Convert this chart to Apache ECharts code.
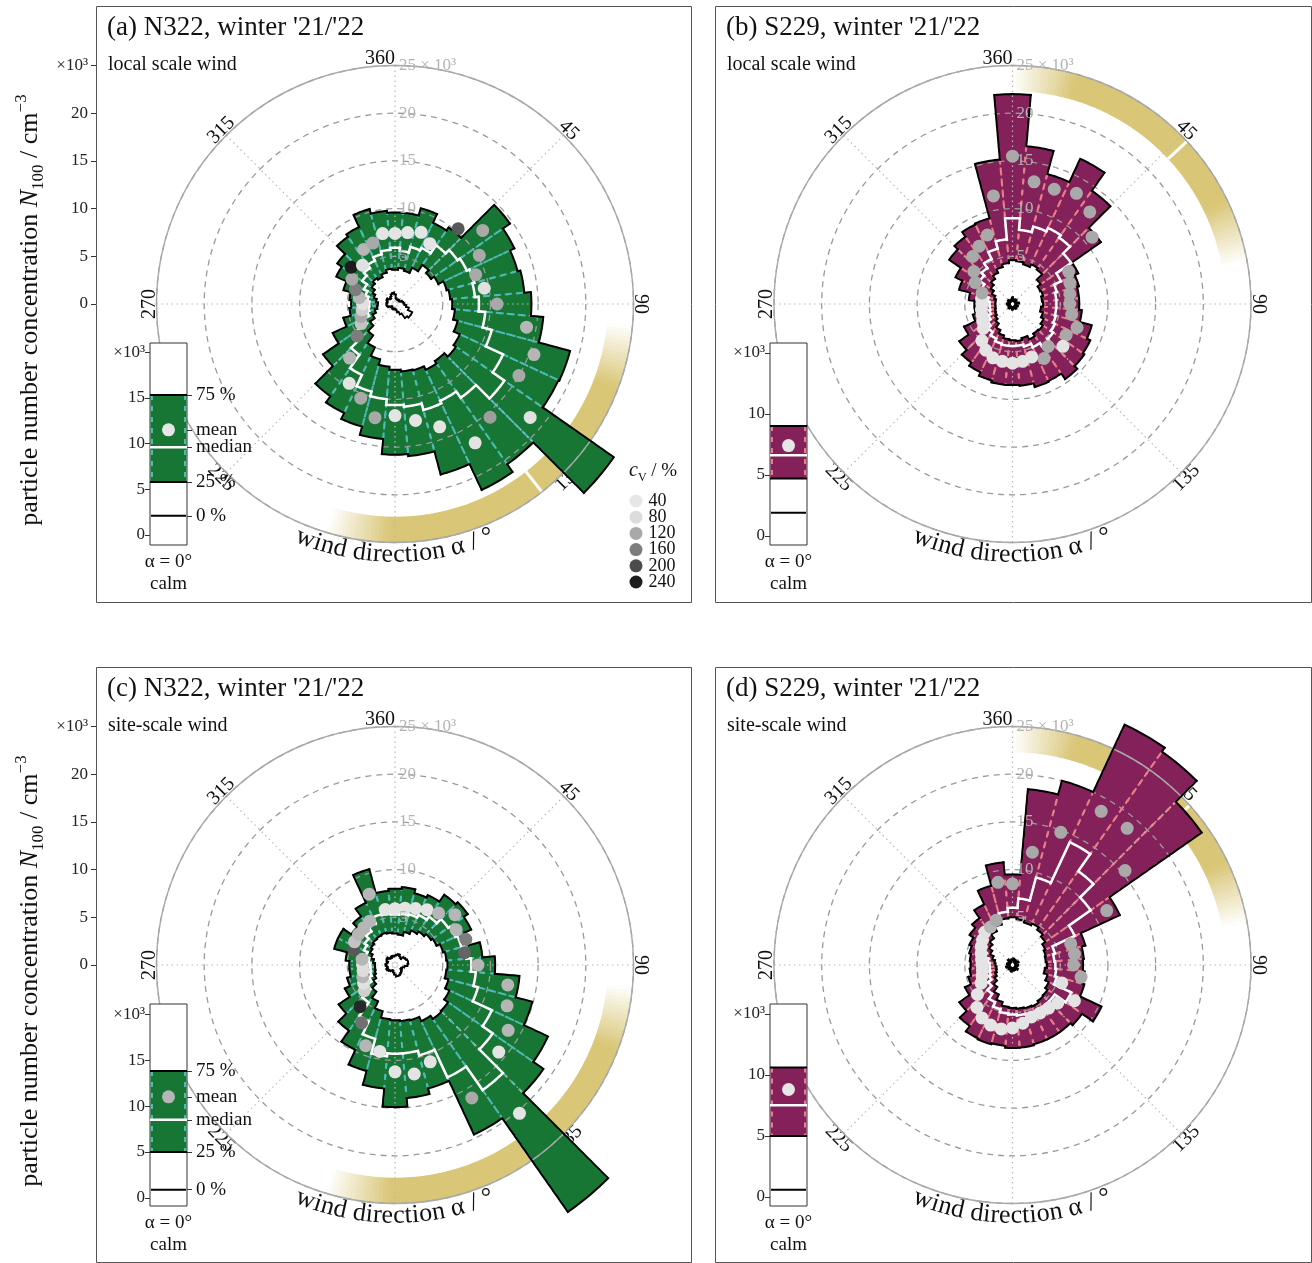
<!DOCTYPE html>
<html>
<head>
<meta charset="utf-8">
<script src="https://cdn.jsdelivr.net/npm/echarts@6.0.0/dist/echarts.min.js"></script>
<style>
html,body{margin:0;padding:0;background:#fff;}
#chart{width:1312px;height:1263px;}
</style>
</head>
<body>
<div id="chart"></div>
<script>
// ---------------- data ----------------
const BINS = [0,10,20,30,40,50,60,70,80,90,100,110,120,130,140,150,160,170,180,190,200,210,220,230,240,250,260,270,280,290,300,310,320,330,340,350];

// (a) N322, local scale wind  (x10^3 cm^-3)
const A_Q75  = [9.6,9.6,10.4,9.4,9.8,14.7,13.8,13.3,13.6,14.3,15.6,19.0,18.9,28.0,20.5,21.5,18.5,16.0,15.8,14.2,13.3,12.6,11.8,9.2,7.2,5.6,4.8,4.6,4.8,5.6,6.8,7.4,8.6,8.9,10.3,9.8];
const A_MED  = [5.9,5.6,6.2,6.5,7.5,8.0,8.3,8.6,8.4,8.8,9.5,10.5,12.5,14.0,12.0,11.2,11.5,10.8,10.6,10.0,9.5,8.2,6.5,5.0,3.6,3.0,2.8,2.7,2.9,3.2,3.6,4.2,4.6,5.0,5.4,5.7];
const A_Q25  = [3.6,3.8,3.6,4.2,5.0,4.6,5.0,5.6,5.8,6.0,6.3,6.8,7.5,7.8,7.3,7.6,7.2,7.1,6.9,6.6,6.0,5.0,4.0,3.2,2.6,2.2,1.9,1.8,2.0,2.3,2.6,3.0,3.3,3.1,3.4,3.7];
const A_MEAN = [7.4,7.6,8.0,7.3,10.3,12.0,10.2,9.0,9.5,10.7,14.0,15.5,15.0,18.5,15.5,16.8,13.7,12.4,11.7,12.1,10.5,9.6,7.4,5.2,4.1,3.8,3.5,3.4,3.8,4.4,5.2,6.0,5.3,6.6,6.8,7.5];
const A_CV   = [50,45,45,50,190,120,120,120,60,120,110,110,120,60,130,50,50,50,50,120,120,55,110,160,100,120,90,60,110,160,120,240,60,110,120,50];
const A_MIN  = [1.0,0.6,0.5,0.5,0.6,0.5,0.6,0.8,0.9,1.0,1.2,1.5,2.0,2.0,1.8,1.2,0.9,0.6,0.5,0.5,0.6,0.5,0.5,0.4,0.6,0.8,0.9,0.9,0.8,0.9,1.0,0.8,0.7,0.9,1.1,1.2];

// (b) S229, local scale wind
const B_Q75  = [22.0,16.6,14.1,16.8,14.5,11.3,7.6,7.2,7.0,7.0,7.3,8.6,9.0,9.2,9.6,8.9,9.0,8.6,8.5,8.5,8.3,7.9,7.5,6.8,5.6,4.3,4.0,4.0,4.6,5.8,6.6,8.1,8.6,9.2,9.3,15.2];
const B_MED  = [9.0,7.8,8.4,8.8,8.5,7.5,5.6,4.8,4.6,4.6,4.6,4.7,4.9,5.2,5.4,5.0,4.6,4.4,4.4,4.4,4.3,4.0,3.6,3.2,2.8,2.5,2.4,2.4,2.6,3.0,3.6,4.2,4.6,5.2,6.0,6.8];
const B_Q25  = [4.6,4.5,4.3,4.6,4.4,3.6,3.2,3.3,3.1,3.2,3.0,3.3,3.6,3.9,3.8,4.1,3.7,3.9,3.8,3.7,3.4,3.0,2.5,2.2,2.0,1.9,1.8,1.8,1.8,2.0,2.4,2.8,3.2,3.6,4.0,4.3];
const B_MEAN = [15.5,13.0,12.8,13.4,12.6,10.9,6.8,6.4,6.1,6.0,6.3,7.2,6.5,6.9,5.8,6.6,5.9,6.1,6.2,6.1,6.0,5.6,5.0,4.0,3.6,3.4,3.3,3.2,3.3,3.4,4.5,5.3,6.5,7.0,7.7,11.5];
const B_CV   = [120,120,120,120,120,120,120,120,120,120,120,120,120,50,120,120,50,50,50,50,50,50,50,50,50,50,50,50,50,120,120,120,120,120,120,120];
const B_MIN  = [0.7,0.3,0.5,0.4,0.6,0.3,0.4,0.5,0.7,0.3,0.4,0.6,0.5,0.3,0.6,0.4,0.5,0.3,0.6,0.4,0.3,0.5,0.6,0.3,0.4,0.5,0.3,0.6,0.4,0.3,0.5,0.6,0.3,0.4,0.5,0.3];

// (c) N322, site-scale wind
const C_Q75  = [8.0,8.2,7.8,8.1,9.0,9.3,8.8,8.0,9.2,10.5,13.1,14.9,17.7,19.0,31.6,19.6,13.4,14.0,14.9,13.0,11.5,9.8,8.4,7.2,5.8,5.2,4.8,4.8,5.2,6.6,6.6,5.6,6.2,7.2,10.4,7.8];
const C_MED  = [5.3,5.4,5.5,5.8,6.2,6.8,7.0,7.2,7.5,8.0,8.5,9.0,11.2,12.5,16.0,13.0,9.8,9.3,9.3,9.6,8.0,6.5,4.8,3.6,3.0,2.7,2.6,2.6,2.8,3.2,3.6,3.9,4.3,4.8,5.5,5.4];
const C_Q25  = [3.3,3.2,3.6,4.0,4.3,4.6,4.8,5.2,5.4,5.5,5.4,5.8,6.3,6.8,6.9,6.5,6.0,5.9,5.8,5.7,5.0,4.2,3.4,2.8,2.4,2.2,2.1,2.1,2.3,2.6,2.9,3.1,3.3,3.4,3.5,3.4];
const C_MEAN = [5.9,6.05,6.3,6.7,7.1,8.2,7.4,7.9,7.4,8.7,12.0,12.5,13.7,14.2,20.3,16.1,10.8,11.6,11.2,9.2,9.0,7.0,5.7,4.2,3.8,3.6,3.4,3.4,3.5,4.6,4.9,5.0,5.1,5.3,7.9,5.9];
const C_CV   = [50,50,50,50,110,110,110,160,180,110,110,110,110,50,50,120,50,50,50,50,110,170,230,90,60,110,80,70,110,190,100,110,110,110,110,50];
const C_MIN  = [1.0,1.1,1.2,1.0,0.9,1.2,1.3,1.4,1.4,1.3,1.0,0.8,0.7,0.9,1.0,1.1,1.2,1.2,1.0,0.8,0.6,0.7,0.8,0.9,1.0,0.8,0.9,1.0,0.9,0.8,1.0,1.1,0.9,0.8,1.0,0.9];

// (d) S229, site-scale wind
const D_Q75  = [9.5,18.5,20.0,27.8,27.3,24.2,12.4,7.9,7.5,7.4,7.6,7.8,10.3,8.9,8.6,8.6,8.6,8.7,8.7,8.5,8.6,8.5,7.8,6.8,5.5,4.8,4.5,4.4,4.5,4.7,5.0,5.5,6.0,7.0,8.6,10.8];
const D_MED  = [6.0,7.0,9.5,14.2,12.0,10.0,7.2,4.6,4.4,4.5,4.6,4.8,6.8,5.4,5.4,5.5,5.4,5.3,5.2,5.1,4.8,4.3,3.7,3.1,2.7,2.5,2.4,2.4,2.6,3.0,3.4,3.8,4.2,4.6,5.2,5.6];
const D_Q25  = [5.0,4.8,4.6,4.8,4.5,4.2,3.8,3.6,3.5,3.6,3.4,3.8,4.2,4.5,4.6,4.8,4.7,4.6,4.5,4.4,4.0,3.4,2.8,2.3,2.0,1.8,1.7,1.8,1.9,2.2,2.6,3.0,3.4,3.9,4.4,4.9];
const D_MEAN = [8.5,12.0,14.8,18.6,18.7,15.4,11.4,6.5,6.6,6.4,7.3,5.5,7.5,6.2,5.9,5.8,5.8,6.2,6.6,6.8,6.7,6.4,5.8,4.8,3.8,3.4,3.2,3.2,3.3,3.5,3.8,4.1,4.5,4.6,5.0,8.8];
const D_CV   = [120,120,120,120,120,120,120,120,120,120,120,60,50,50,50,50,50,50,50,50,50,50,50,50,50,50,50,50,50,50,50,50,60,110,120,120];
const D_MIN  = [0.5,0.7,0.4,0.6,0.3,0.5,0.7,0.4,0.3,0.6,0.5,0.3,0.4,0.7,0.5,0.3,0.6,0.4,0.5,0.7,0.3,0.4,0.6,0.5,0.3,0.7,0.4,0.5,0.6,0.3,0.5,0.4,0.7,0.3,0.5,0.6];

// calm (alpha = 0): [0 %, 25 %, median, 75 %, mean, cv]
const CALM_A = [2.1, 5.8, 9.6, 15.3, 11.5, 40];
const CALM_B = [1.9, 4.7, 6.6, 9.0, 7.4, 40];
const CALM_C = [0.9, 5.0, 8.5, 13.8, 11.0, 110];
const CALM_D = [0.6, 5.0, 7.5, 10.6, 8.8, 40];

// highlighted direction sector: [start deg, end deg, marker deg]
const BAND_A = [95, 197, 142];
const BAND_B = [0, 80, 47];
const BAND_C = [95, 197, 142];
const BAND_D = [0, 80, 48];

const TITLES = ["(a) N322, winter '21/'22", "(b) S229, winter '21/'22", "(c) N322, winter '21/'22", "(d) S229, winter '21/'22"];
const SUBTITLES = ["local scale wind", "local scale wind", "site-scale wind", "site-scale wind"];
const ANGLE_TICKS = [0, 45, 90, 135, 225, 270, 315];
const ANGLE_TICK_LABELS = ["360", "45", "90", "135", "225", "270", "315"];
const RADIUS_TICKS = [5, 10, 15, 20, 25];
const RADIUS_TICK_LABELS = ["5", "10", "15", "20", "25 × 10³"];
const CV_LEGEND = [40, 80, 120, 160, 200, 240];
const CALM_LABELS = ["0 %", "25 %", "median", "75 %", "mean"];
const AXIS_TITLE_ANGLE = "wind direction α / °";

// ---------------- styling / layout ----------------
const FONT = '"Liberation Serif","Times New Roman",serif';
const GOLD = [217, 198, 119];
const HALF = 5;
const BAND_R = [22.3, 25];
const ANGLE_LABEL_R = 25.75;
const TITLE_R = 26.3;
const RMAX = 25;
const RPX = 238.5;

const PANELS = [
  {q75:A_Q75, med:A_MED, q25:A_Q25, mean:A_MEAN, cv:A_CV, min:A_MIN, calm:CALM_A, band:BAND_A,
   fill:'#177634', edge:'#4fb9b6', frame:[96,6,595,596], cx:395, cy:304,
   inset:{left:150, top:343, ymin:-1.1, ymax:21.0, ticks:[0,5,10,15,20]}, calmLabels:true, leftAxis:true},
  {q75:B_Q75, med:B_MED, q25:B_Q25, mean:B_MEAN, cv:B_CV, min:B_MIN, calm:CALM_B, band:BAND_B,
   fill:'#84205a', edge:'#e97f86', frame:[715,6,596,596], cx:1012.5, cy:304,
   inset:{left:770, top:343, ymin:-0.74, ymax:15.8, ticks:[0,5,10,15]}, calmLabels:false, leftAxis:false},
  {q75:C_Q75, med:C_MED, q25:C_Q25, mean:C_MEAN, cv:C_CV, min:C_MIN, calm:CALM_C, band:BAND_C,
   fill:'#177634', edge:'#4fb9b6', frame:[96,667,595,595], cx:395, cy:965,
   inset:{left:150, top:1004, ymin:-0.87, ymax:21.1, ticks:[0,5,10,15,20]}, calmLabels:true, leftAxis:true},
  {q75:D_Q75, med:D_MED, q25:D_Q25, mean:D_MEAN, cv:D_CV, min:D_MIN, calm:CALM_D, band:BAND_D,
   fill:'#84205a', edge:'#e97f86', frame:[715,667,596,595], cx:1012.5, cy:965,
   inset:{left:770, top:1004, ymin:-0.74, ymax:15.8, ticks:[0,5,10,15]}, calmLabels:false, leftAxis:false}
];

// ---------------- helpers ----------------
function arc(api, r, a0, a1) {
  const pts = [];
  const n = Math.max(2, Math.ceil(Math.abs(a1 - a0)));
  for (let k = 0; k <= n; k++) pts.push(api.coord([r, a0 + (a1 - a0) * k / n]));
  return pts;
}
function sectorRender(fill) {
  return function (params, api) {
    const hi = api.value(0), a = api.value(1), lo = api.value(2);
    const pts = arc(api, hi, a - HALF, a + HALF).concat(arc(api, lo, a + HALF, a - HALF));
    return {type:'polygon', shape:{points:pts}, style:{fill:fill, stroke:fill, lineWidth:0.7}};
  };
}
function edgeRender(color) {
  return function (params, api) {
    const hi = api.value(0), a = api.value(1), lo = api.value(2);
    const mk = function (ang) {
      const p0 = api.coord([lo, ang]), p1 = api.coord([hi, ang]);
      return {type:'line', shape:{x1:p0[0], y1:p0[1], x2:p1[0], y2:p1[1]},
              style:{stroke:color, lineWidth:2, lineDash:[5,6], fill:null}};
    };
    return {type:'group', children:[mk(a - HALF), mk(a + HALF)]};
  };
}
function stepRender(color, width) {
  return function (params, api) {
    const r = api.value(0), a = api.value(1), prev = api.value(2);
    const pts = [api.coord([prev, a - HALF])].concat(arc(api, r, a - HALF, a + HALF));
    return {type:'polyline', shape:{points:pts},
            style:{stroke:color, lineWidth:width, fill:null, lineJoin:'miter', lineCap:'square'}};
  };
}
function stepData(vals) {
  return BINS.map(function (b, i) { return [vals[i], b, vals[(i + vals.length - 1) % vals.length]]; });
}
function mix(t) {
  const c = GOLD.map(function (v) { return Math.round(255 + (v - 255) * t); });
  return 'rgb(' + c.join(',') + ')';
}
function bandRender(params, api) {
  const s = api.value(0), e = api.value(1), t = api.value(2);
  const fade = 16;
  const children = [];
  for (let a = s; a < e; a += 1) {
    const mid = a + 0.5;
    const op = Math.max(0, Math.min(1, (mid - s) / fade, (e - mid) / fade));
    const a1 = Math.min(e, a + 1.2);
    const pts = arc(api, BAND_R[1], a, a1).concat(arc(api, BAND_R[0], a1, a));
    children.push({type:'polygon', shape:{points:pts}, style:{fill:mix(op)}});
  }
  const p0 = api.coord([BAND_R[0], t]), p1 = api.coord([BAND_R[1], t]);
  children.push({type:'line', shape:{x1:p0[0], y1:p0[1], x2:p1[0], y2:p1[1]}, style:{stroke:'#fff', lineWidth:3}});
  return {type:'group', children:children};
}
function angleLabelRender(params, api) {
  const a = api.value(1);
  const p = api.coord([api.value(0), a]);
  const rot = (a > 90 && a < 270) ? a - 180 : a;
  return {type:'text', x:p[0], y:p[1], rotation:-rot * Math.PI / 180,
          style:{text:ANGLE_TICK_LABELS[params.dataIndex], fontSize:20, fontFamily:FONT, fill:'#111',
                 align: a === 0 ? 'right' : 'center', verticalAlign:'middle'}};
}
function radiusLabelRender(params, api) {
  const p = api.coord([api.value(0), api.value(1)]);
  return {type:'text', x:p[0] + 4, y:p[1],
          style:{text:RADIUS_TICK_LABELS[params.dataIndex], fontSize:17, fontFamily:FONT, fill:'#b3b3b3',
                 align:'left', verticalAlign:'middle'}};
}
const measureCtx = document.createElement('canvas').getContext('2d');
const TITLE_FONT_SIZE = 26;
measureCtx.font = TITLE_FONT_SIZE + 'px ' + FONT;
function curvedTitleRender(params, api) {
  const rVal = api.value(0), center = api.value(1);
  const c0 = api.coord([0, 0]), pr = api.coord([rVal, center]);
  const R = Math.hypot(pr[0] - c0[0], pr[1] - c0[1]);
  const chars = Array.from(AXIS_TITLE_ANGLE);
  const widths = chars.map(function (ch) { return measureCtx.measureText(ch).width; });
  const total = widths.reduce(function (s, w) { return s + w; }, 0);
  let s = -total / 2;
  const children = [];
  chars.forEach(function (ch, i) {
    const sm = s + widths[i] / 2;
    s += widths[i];
    const ang = center - (sm / R) * 180 / Math.PI;
    const p = api.coord([rVal, ang]);
    children.push({type:'text', x:p[0], y:p[1], rotation:(center - ang) * Math.PI / 180,
      style:{text:ch, fontSize:TITLE_FONT_SIZE, fontFamily:FONT, fill:'#111', align:'center', verticalAlign:'middle'}});
  });
  return {type:'group', children:children};
}
function calmRender(fill, edge) {
  return function (params, api) {
    const cs = params.coordSys;
    const y = function (v) { return api.coord([0, v])[1]; };
    const yMin = y(api.value(1)), y25 = y(api.value(2)), yMed = y(api.value(3)), y75 = y(api.value(4));
    const x0 = cs.x, x1 = cs.x + cs.width;
    const ln = function (ya, yb, xa, xb, color, w, dash) {
      return {type:'line', shape:{x1:xa, y1:ya, x2:xb, y2:yb}, style:{stroke:color, lineWidth:w, lineDash:dash || null}};
    };
    return {type:'group', children:[
      {type:'rect', shape:{x:x0 + 0.5, y:y75, width:cs.width - 1, height:y25 - y75}, style:{fill:fill}},
      ln(y75, y25, x0 + 2, x0 + 2, edge, 2, [5,6]),
      ln(y75, y25, x1 - 2, x1 - 2, edge, 2, [5,6]),
      ln(y75, y75, x0, x1, '#000', 2),
      ln(y25, y25, x0, x1, '#000', 2),
      ln(yMed, yMed, x0, x1, '#fff', 2.5),
      ln(yMin, yMin, x0 + 1, x1 - 1, '#000', 2)
    ]};
  };
}

// ---------------- build option ----------------
const polar = [], angleAxis = [], radiusAxis = [], grid = [], xAxis = [], yAxis = [], series = [];
const colorSeries = [];
const graphic = [];

PANELS.forEach(function (p, i) {
  polar.push({center:[p.cx, p.cy], radius:RPX});
  angleAxis.push({polarIndex:i, type:'value', min:0, max:360, interval:45, startAngle:90, clockwise:true, z:3,
    axisLine:{show:true, lineStyle:{color:'#a9a9a9', width:1.4}},
    axisTick:{show:false}, axisLabel:{show:false},
    splitLine:{show:true, lineStyle:{color:'#b8b8b8', width:1.2, type:[1.5,3.5]}}});
  radiusAxis.push({polarIndex:i, type:'value', min:0, max:RMAX, interval:5, z:3,
    axisLine:{show:false}, axisTick:{show:false}, axisLabel:{show:false},
    splitLine:{show:true, lineStyle:{color:'#9a9a9a', width:1.3, type:[6,5]}}});

  series.push({type:'custom', coordinateSystem:'polar', polarIndex:i, z:1, silent:true,
    data:[[p.band[0], p.band[1], p.band[2]]], renderItem:bandRender});
  series.push({type:'custom', coordinateSystem:'polar', polarIndex:i, z:1, silent:true,
    data:ANGLE_TICKS.map(function (a) { return [ANGLE_LABEL_R, a]; }), renderItem:angleLabelRender});
  const secData = BINS.map(function (b, j) { return [p.q75[j], b, p.q25[j]]; });
  series.push({type:'custom', coordinateSystem:'polar', polarIndex:i, z:2, silent:true,
    data:secData, renderItem:sectorRender(p.fill)});
  series.push({type:'custom', coordinateSystem:'polar', polarIndex:i, z:2, silent:true,
    data:secData, renderItem:edgeRender(p.edge)});
  series.push({type:'custom', coordinateSystem:'polar', polarIndex:i, z:4, silent:true,
    data:stepData(p.q75), renderItem:stepRender('#000', 2)});
  series.push({type:'custom', coordinateSystem:'polar', polarIndex:i, z:4, silent:true,
    data:stepData(p.q25), renderItem:stepRender('#000', 2)});
  series.push({type:'custom', coordinateSystem:'polar', polarIndex:i, z:4, silent:true,
    data:stepData(p.med), renderItem:stepRender('#fff', 2.5)});
  series.push({type:'custom', coordinateSystem:'polar', polarIndex:i, z:4, silent:true,
    data:stepData(p.min), renderItem:stepRender('#000', 1.8)});
  colorSeries.push(series.length);
  series.push({type:'scatter', coordinateSystem:'polar', polarIndex:i, z:5, silent:true, symbolSize:13,
    itemStyle:{opacity:1},
    data:BINS.map(function (b, j) { return [p.mean[j], b, p.cv[j]]; })});
  series.push({type:'custom', coordinateSystem:'polar', polarIndex:i, z:6, silent:true,
    data:RADIUS_TICKS.map(function (v) { return [v, 0]; }), renderItem:radiusLabelRender});
  series.push({type:'custom', coordinateSystem:'polar', polarIndex:i, z:6, silent:true,
    data:[[TITLE_R, 180]], renderItem:curvedTitleRender});

  // calm inset
  const gi = grid.length;
  grid.push({left:p.inset.left, top:p.inset.top, width:37, height:202, show:true,
    borderColor:'#333', borderWidth:1, backgroundColor:'#fff', z:10});
  xAxis.push({gridIndex:gi, type:'category', data:['α = 0°\ncalm'], z:11,
    axisLine:{show:false}, axisTick:{show:false},
    axisLabel:{fontSize:19, fontFamily:FONT, color:'#111', lineHeight:22, margin:6}});
  const topTick = p.inset.ticks[p.inset.ticks.length - 1];
  yAxis.push({gridIndex:gi, type:'value', min:p.inset.ymin, max:p.inset.ymax, position:'left', z:11,
    axisLine:{show:false}, splitLine:{show:false},
    axisTick:{show:true, customValues:p.inset.ticks, length:5, lineStyle:{color:'#333'}},
    axisLabel:{customValues:p.inset.ticks, fontSize:17, fontFamily:FONT, color:'#222', margin:5,
      formatter:function (v) { return v === topTick ? '×10³' : String(v); }}});
  const yi = yAxis.length - 1;
  if (p.calmLabels) {
    const vals = [p.calm[0], p.calm[1], p.calm[2], p.calm[3], p.calm[4]];
    yAxis.push({gridIndex:gi, type:'value', min:p.inset.ymin, max:p.inset.ymax, position:'right', z:11,
      axisLine:{show:false}, splitLine:{show:false},
      axisTick:{show:true, customValues:vals, length:5, lineStyle:{color:'#333'}},
      axisLabel:{customValues:vals, fontSize:19, fontFamily:FONT, color:'#111', margin:9,
        formatter:function (v) { const k = vals.indexOf(v); return k >= 0 ? CALM_LABELS[k] : ''; }}});
  }
  series.push({type:'custom', coordinateSystem:'cartesian2d', xAxisIndex:gi, yAxisIndex:yi, z:12, silent:true,
    data:[[0, p.calm[0], p.calm[1], p.calm[2], p.calm[3]]], renderItem:calmRender(p.fill, p.edge)});
  colorSeries.push(series.length);
  series.push({type:'scatter', coordinateSystem:'cartesian2d', xAxisIndex:gi, yAxisIndex:yi, z:13, silent:true,
    symbolSize:13, itemStyle:{opacity:1}, data:[[0, p.calm[4], p.calm[5]]]});

  // frame, title, subtitle
  graphic.push({type:'rect', shape:{x:p.frame[0] + 0.5, y:p.frame[1] + 0.5, width:p.frame[2], height:p.frame[3]},
    style:{fill:null, stroke:'#555', lineWidth:1}, z:0, silent:true});
  graphic.push({type:'text', x:p.frame[0] + 11, y:p.frame[1] + 22,
    style:{text:TITLES[i], fontSize:27, fontFamily:FONT, fill:'#111', align:'left', verticalAlign:'middle'}, z:20});
  graphic.push({type:'text', x:p.frame[0] + 12, y:p.frame[1] + 59,
    style:{text:SUBTITLES[i], fontSize:20, fontFamily:FONT, fill:'#111', align:'left', verticalAlign:'middle'}, z:20});

  if (p.leftAxis) {
    const gl = grid.length;
    grid.push({left:p.frame[0], top:p.cy - RPX, width:10, height:RPX, show:false});
    xAxis.push({gridIndex:gl, type:'value', show:false, min:0, max:1});
    yAxis.push({gridIndex:gl, type:'value', min:0, max:RMAX, position:'left',
      axisLine:{show:false}, splitLine:{show:false},
      axisTick:{show:true, customValues:[0,5,10,15,20,25], length:5, lineStyle:{color:'#333'}},
      axisLabel:{customValues:[0,5,10,15,20,25], fontSize:17, fontFamily:FONT, color:'#222', margin:8,
        formatter:function (v) { return v === RMAX ? '×10³' : String(v); }}});
    series.push({type:'scatter', xAxisIndex:gl, yAxisIndex:yAxis.length - 1, data:[], silent:true});
    graphic.push({type:'text', x:30, y:p.cy + 6, rotation:Math.PI / 2, z:20,
      style:{text:'{n|particle number concentration }{i|N}{s|100}{n| / cm}{p|−3}',
        align:'center', verticalAlign:'middle',
        rich:{n:{fontSize:26, fontFamily:FONT, fill:'#111', lineHeight:34},
              i:{fontSize:26, fontFamily:FONT, fontStyle:'italic', fill:'#111', lineHeight:34},
              s:{fontSize:17, fontFamily:FONT, fill:'#111', verticalAlign:'bottom', lineHeight:34},
              p:{fontSize:17, fontFamily:FONT, fill:'#111', verticalAlign:'top', lineHeight:34}}}});
  }
});

// c_v legend (panel a)
const glg = grid.length;
grid.push({left:626, top:501, width:20, height:81, show:false});
xAxis.push({gridIndex:glg, type:'value', show:false, min:-1, max:1});
yAxis.push({gridIndex:glg, type:'value', show:false, min:40, max:240, inverse:true});
colorSeries.push(series.length);
series.push({type:'scatter', xAxisIndex:glg, yAxisIndex:yAxis.length - 1, symbolSize:13, silent:true, z:5,
  itemStyle:{opacity:1},
  data:CV_LEGEND.map(function (v) { return [0, v, v]; }),
  label:{show:true, position:'right', distance:6, fontSize:18, fontFamily:FONT, color:'#111',
    formatter:function (q) { return String(q.value[1]); }}});
graphic.push({type:'text', x:629, y:471, z:20,
  style:{text:'{i|c}{s|V}{n| / %}', align:'left', verticalAlign:'middle',
    rich:{i:{fontSize:20, fontFamily:FONT, fontStyle:'italic', fill:'#111', lineHeight:26},
          s:{fontSize:12, fontFamily:FONT, fill:'#111', verticalAlign:'bottom', lineHeight:26},
          n:{fontSize:19, fontFamily:FONT, fill:'#111', lineHeight:26}}}});

const option = {
  animation:false,
  backgroundColor:'#fff',
  textStyle:{fontFamily:FONT},
  polar:polar, angleAxis:angleAxis, radiusAxis:radiusAxis,
  grid:grid, xAxis:xAxis, yAxis:yAxis,
  visualMap:[{type:'continuous', show:false, min:40, max:240, dimension:2, seriesIndex:colorSeries,
    inRange:{color:['#e6e6e6','#dcdcdc','#a9a9a9','#7d7d7d','#4b4b4b','#1c1c1c'], opacity:1}}],
  graphic:graphic,
  series:series
};
const chart = echarts.init(document.getElementById('chart'), null, {width:1312, height:1263});
chart.setOption(option);
</script>
</body>
</html>
